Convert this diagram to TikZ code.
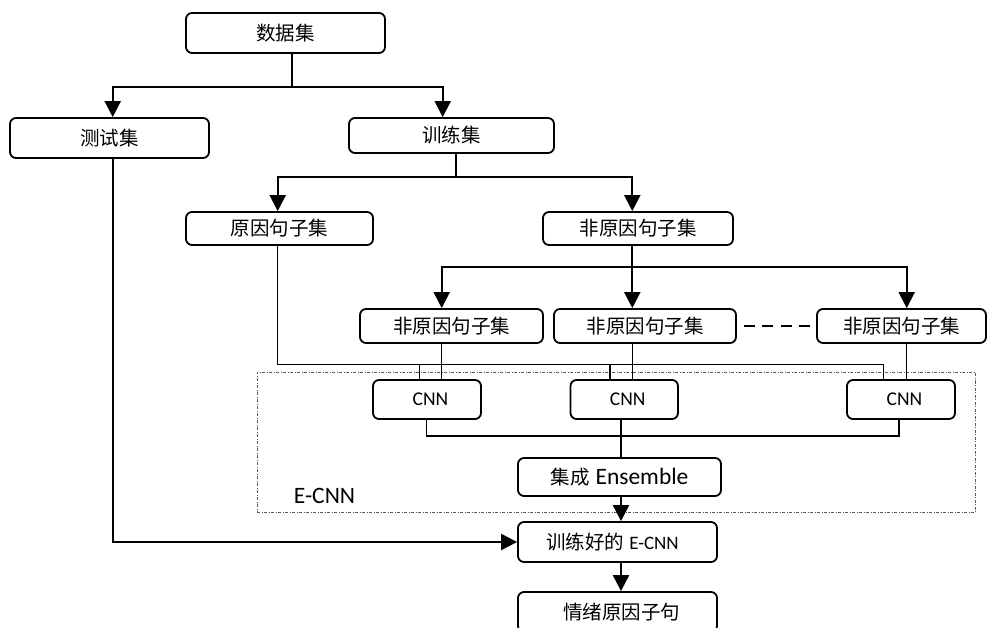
\documentclass[tikz,border=0pt]{standalone}
\usepackage{fontspec}
\setmainfont{Carlito}
\newfontfamily\cjk{Noto Sans CJK SC}
\usetikzlibrary{arrows.meta}
\begin{document}
\begin{tikzpicture}[x=1pt,y=-1pt,
  box/.style={draw, line width=1.8pt, rounded corners=6pt, inner sep=0pt, align=center},
  zh/.style={font=\cjk\fontsize{19.5}{22}\selectfont},
  lat/.style={font=\fontsize{19.5}{22}\selectfont},
  conn/.style={line width=2.1pt},
  thinconn/.style={line width=1.4pt},
  arr/.style={conn, -{Triangle[length=16pt,width=16pt]}},
  grp/.style={draw=black!65, line width=0.9pt, dash pattern=on 3pt off 1.5pt on 1pt off 1.5pt, inner sep=0pt},
]
\useasboundingbox (0,0) rectangle (990,628);
\clip (0,0) rectangle (990,628);

% group box
\node[grp, minimum width=718.5pt, minimum height=139.3pt] (ecnnbox) at (616.25,442.35) {};
\node[font=\fontsize{23.5}{26}\selectfont, inner sep=0pt] (ecnnlabel) at (324.5,496) {E-CNN};

% boxes
\node[box, zh, minimum width=199pt, minimum height=40pt] (data) at (285.5,33) {数据集};
\node[box, zh, minimum width=199pt, minimum height=40pt] (test) at (109.5,138) {测试集};
\node[box, zh, minimum width=205pt, minimum height=35pt] (train) at (451.5,135.5) {训练集};
\node[box, zh, minimum width=187pt, minimum height=33pt] (cause) at (279.5,228.5) {原因句子集};
\node[box, zh, minimum width=190pt, minimum height=33pt] (noncause) at (638,228.5) {非原因句子集};
\node[box, zh, minimum width=183pt, minimum height=34pt] (nc1) at (451.5,326) {非原因句子集};
\node[box, zh, minimum width=182pt, minimum height=34pt] (nc2) at (645,326) {非原因句子集};
\node[box, zh, minimum width=169pt, minimum height=34pt] (nc3) at (901.5,326) {非原因句子集};
\node[box, lat, minimum width=108pt, minimum height=39pt] (cnn1) at (427,399.5) {\hspace{7pt}CNN};
\node[box, lat, minimum width=107.5pt, minimum height=39pt] (cnn2) at (624.25,399.5) {\hspace{7pt}CNN};
\node[box, lat, minimum width=108pt, minimum height=39pt] (cnn3) at (901,399.5) {\hspace{7pt}CNN};
\node[box, minimum width=203pt, minimum height=38pt] (ens) at (619.5,477)
  {{\cjk\fontsize{19.5}{22}\selectfont 集成}\hspace{6pt}{\fontsize{23.5}{26}\selectfont Ensemble}};
\node[box, minimum width=199pt, minimum height=40pt] (trained) at (617.5,542)
  {{\cjk\fontsize{19.5}{22}\selectfont 训练好的}\hspace{5pt}{\fontsize{19}{22}\selectfont E-CNN}\hspace{10pt}};
\node[box, zh, minimum width=199pt, minimum height=40pt] (result) at (617.5,612) {\hspace{8pt}情绪原因子句};

% column coordinates
\coordinate (s1) at (291.7,87.3);
\coordinate (s2) at (455.7,176.7);
\coordinate (s3) at (632.3,266.7);
\coordinate (c0) at (112.7,0);
\coordinate (ctr) at (442.7,0);
\coordinate (cca) at (277.7,0);
\coordinate (k1) at (441.7,0);
\coordinate (k2) at (632.3,0);
\coordinate (k3) at (906.7,0);
\coordinate (b0) at (277.3,364.3);
\coordinate (t1) at (419.3,364.3);
\coordinate (t2) at (610,364.3);
\coordinate (b3) at (883.3,364.3);
\coordinate (m1) at (426.7,436);
\coordinate (m3) at (899,436);
\coordinate (c5) at (621,0);

% data -> test / train
\draw[conn] (data.south -| s1) -- (s1);
\draw[arr] (s1) -| (test.north -| c0);
\draw[arr] (s1) -| (train.north -| ctr);

% train -> cause / noncause
\draw[conn] (train.south -| s2) -- (s2);
\draw[arr] (s2) -| (cause.north -| cca);
\draw[arr] (s2) -| (noncause.north -| s3);

% noncause -> nc1..nc3
\draw[conn] (noncause.south -| s3) -- (s3);
\draw[arr] (s3) -| (nc1.north -| k1);
\draw[arr] (s3) -- (nc2.north -| k2);
\draw[arr] (s3) -| (nc3.north -| k3);

% dashed between nc2 and nc3
\draw[line width=2.5pt, dash pattern=on 11pt off 7.5pt] ([xshift=7pt]nc2.east) -- ([xshift=-6.5pt]nc3.west);

% cause bus to CNNs
\draw[thinconn] (cause.south -| b0) -- (b0) -- (b3) -- (cnn3.north -| b3);
\draw[thinconn] (t1) -- (cnn1.north -| t1);
\draw[thinconn] (t2) -- (cnn2.north -| t2);

% nc -> cnn
\draw[thinconn] (nc1.south -| k1) -- (cnn1.north -| k1);
\draw[thinconn] (nc2.south -| k2) -- (cnn2.north -| k2);
\draw[thinconn] (nc3.south -| k3) -- (cnn3.north -| k3);

% cnn -> ensemble
\draw[thinconn] (cnn1.south -| m1) -- (m1) -- (m3) -- (cnn3.south -| m3);
\draw[thinconn] (cnn2.south -| c5) -- (ens.north -| c5);

% ensemble -> trained -> result
\draw[arr] (ens.south -| c5) -- (trained.north -| c5);
\draw[arr] (trained.south -| c5) -- (result.north -| c5);

% test -> trained
\draw[arr] (test.south -| c0) |- (trained.west);
\end{tikzpicture}
\end{document}
